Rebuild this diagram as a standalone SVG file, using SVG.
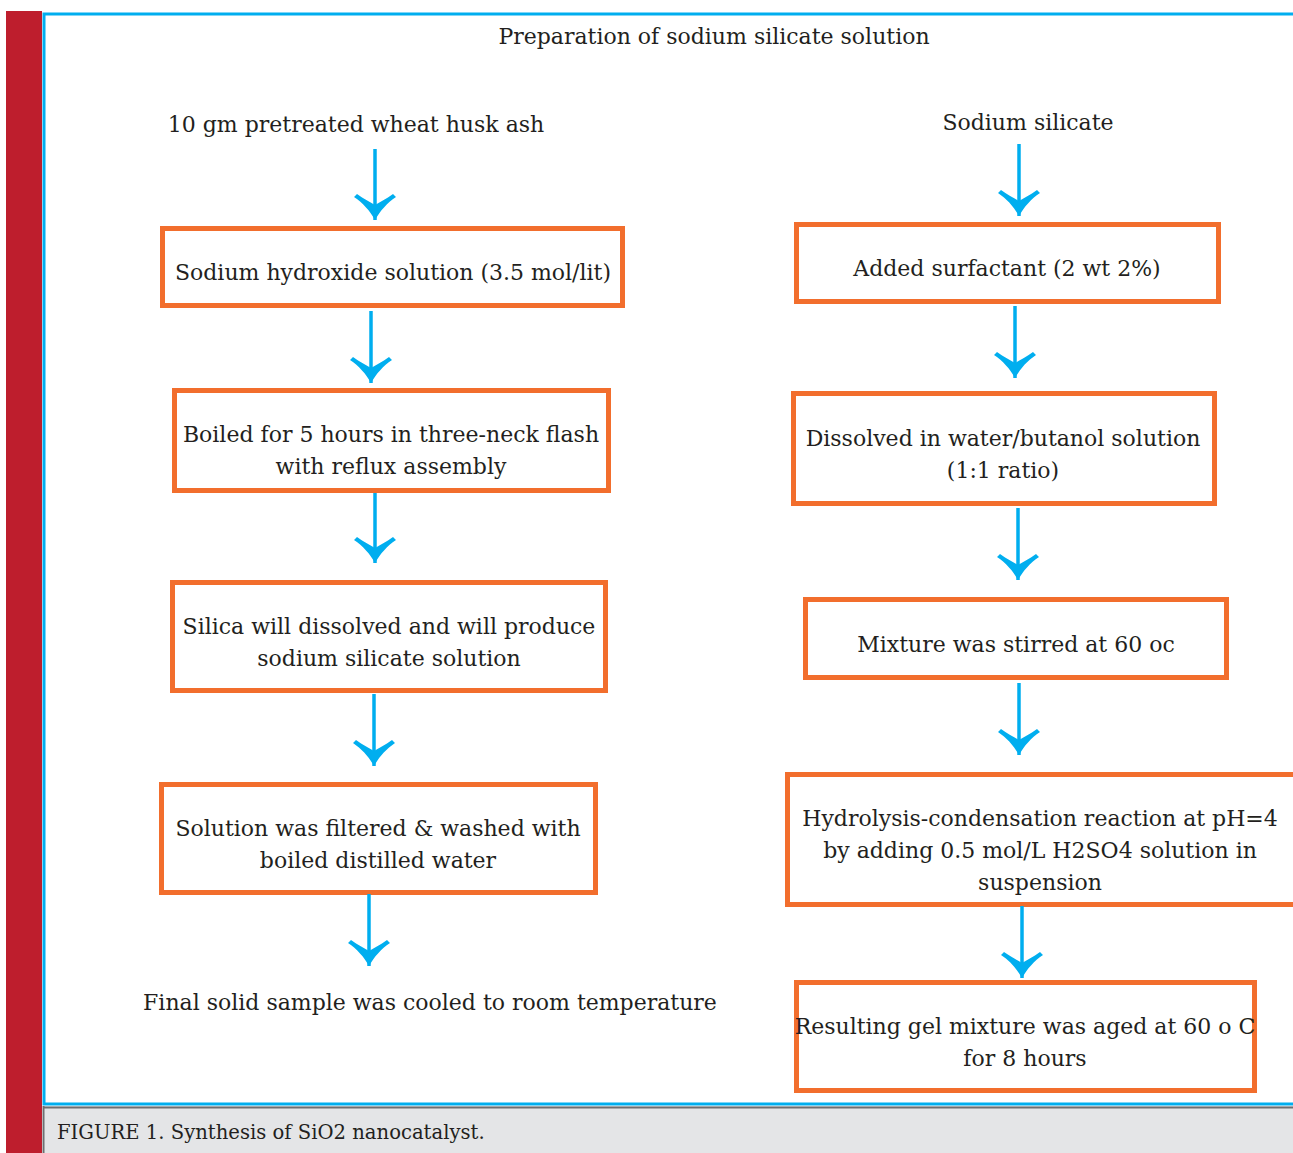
<svg xmlns="http://www.w3.org/2000/svg" width="1293" height="1153" viewBox="0 0 1293 1153">
<style>
text{font-family:"DejaVu Serif","Liberation Serif",serif;font-size:22px;fill:#231F20;text-anchor:middle}
.box{fill:none;stroke:#F26E2D;stroke-width:5}
.arr{stroke:#00AEEF;stroke-width:3.5;fill:none}
.cap{font-size:19.6px;text-anchor:start}
</style>
<defs>
<marker id="ah" markerUnits="userSpaceOnUse" viewBox="-27 -23 29 46" refX="0" refY="0" markerWidth="29" markerHeight="46" orient="auto">
<path d="M0,0 C-9,-5 -17,-12 -23,-21 L-26,-18 C-21,-11 -18,-5 -15,0 C-18,5 -21,11 -26,18 L-23,21 C-17,12 -9,5 0,0 Z" fill="#00AEEF"/>
</marker>
</defs>
<rect x="0" y="0" width="1293" height="1153" fill="#fff"/>
<rect x="6" y="11" width="36" height="1142" fill="#BE1E2D"/>
<rect x="43" y="1106" width="1250" height="47" fill="#E4E5E7"/>
<line x1="43" y1="1107.5" x2="1293" y2="1107.5" stroke="#6D6E71" stroke-width="2"/>
<line x1="43.5" y1="1106" x2="43.5" y2="1153" stroke="#6D6E71" stroke-width="2"/>
<path d="M1293,14 H44 V1104 H1293" fill="none" stroke="#00AEEF" stroke-width="3"/>
<text class="cap" x="57" y="1139">FIGURE 1. Synthesis of SiO2 nanocatalyst.</text>
<g id="title"><text x="714" y="44">Preparation of sodium silicate solution</text></g>
<g id="start-left"><text x="356" y="132">10 gm pretreated wheat husk ash</text></g>
<g id="start-right"><text x="1028" y="130">Sodium silicate</text></g>
<g id="l1"><rect class="box" x="162.5" y="228.5" width="460" height="77"/><text x="393" y="280">Sodium hydroxide solution (3.5 mol/lit)</text></g>
<g id="l2"><rect class="box" x="174.5" y="390.5" width="434" height="100"/><text x="391" y="442">Boiled for 5 hours in three-neck flash</text><text x="391" y="474">with reflux assembly</text></g>
<g id="l3"><rect class="box" x="172.5" y="582.5" width="433" height="108"/><text x="389" y="634">Silica will dissolved and will produce</text><text x="389" y="666">sodium silicate solution</text></g>
<g id="l4"><rect class="box" x="161.5" y="784.5" width="434" height="108"/><text x="378" y="836">Solution was filtered &amp; washed with</text><text x="378" y="868">boiled distilled water</text></g>
<g id="l5"><text x="430" y="1010">Final solid sample was cooled to room temperature</text></g>
<g id="r1"><rect class="box" x="796.5" y="224.5" width="422" height="77"/><text x="1007" y="276">Added surfactant (2 wt 2%)</text></g>
<g id="r2"><rect class="box" x="793.5" y="393.5" width="421" height="110"/><text x="1003" y="446">Dissolved in water/butanol solution</text><text x="1003" y="478">(1:1 ratio)</text></g>
<g id="r3"><rect class="box" x="805.5" y="599.5" width="421" height="78"/><text x="1016" y="652">Mixture was stirred at 60 oc</text></g>
<g id="r4"><rect class="box" x="787.5" y="774.5" width="510" height="130"/><text x="1040" y="826">Hydrolysis-condensation reaction at pH=4</text><text x="1040" y="858">by adding 0.5 mol/L H2SO4 solution in</text><text x="1040" y="890">suspension</text></g>
<g id="r5"><rect class="box" x="796.5" y="982.5" width="458" height="108"/><text x="1025" y="1034">Resulting gel mixture was aged at 60 o C</text><text x="1025" y="1066">for 8 hours</text></g>
<g id="connectors">
<line class="arr" x1="375" y1="149" x2="375" y2="220" marker-end="url(#ah)"/>
<line class="arr" x1="371" y1="311" x2="371" y2="383" marker-end="url(#ah)"/>
<line class="arr" x1="375" y1="493" x2="375" y2="563" marker-end="url(#ah)"/>
<line class="arr" x1="374" y1="694" x2="374" y2="766" marker-end="url(#ah)"/>
<line class="arr" x1="369" y1="894" x2="369" y2="966" marker-end="url(#ah)"/>
<line class="arr" x1="1019" y1="144" x2="1019" y2="216" marker-end="url(#ah)"/>
<line class="arr" x1="1015" y1="306" x2="1015" y2="378" marker-end="url(#ah)"/>
<line class="arr" x1="1018" y1="508" x2="1018" y2="580" marker-end="url(#ah)"/>
<line class="arr" x1="1019" y1="683" x2="1019" y2="755" marker-end="url(#ah)"/>
<line class="arr" x1="1022" y1="906" x2="1022" y2="978" marker-end="url(#ah)"/>
</g>
</svg>
